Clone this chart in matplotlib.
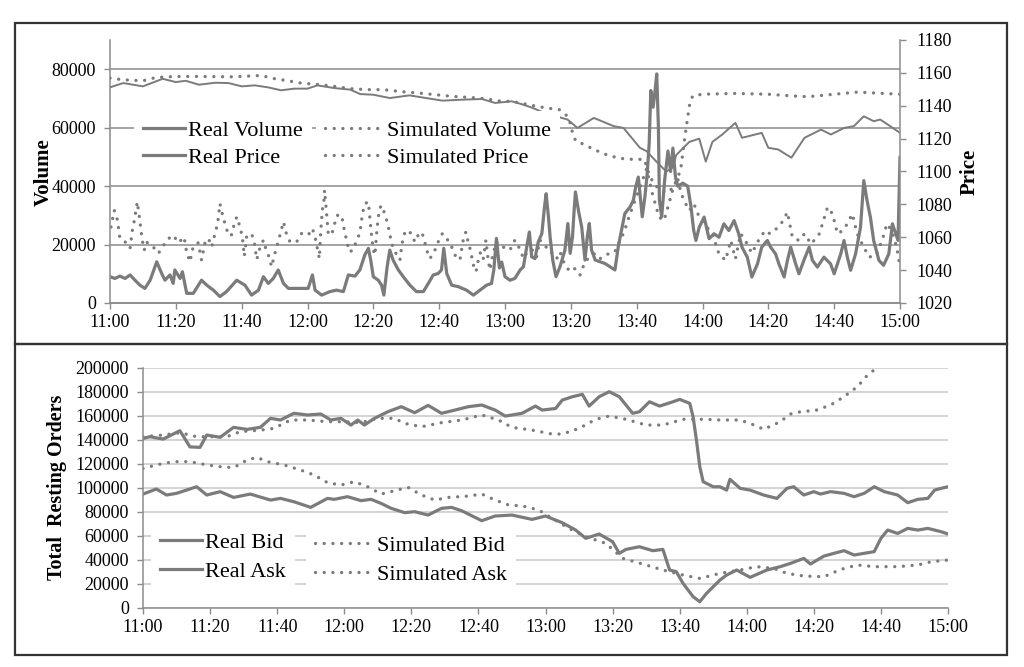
import matplotlib
matplotlib.use("Agg")
import matplotlib.pyplot as plt
from matplotlib.patches import Rectangle
from matplotlib.lines import Line2D

plt.rcParams['font.family'] = ['Liberation Serif', 'DejaVu Serif']

# ---------------- data (minutes after 11:00) ----------------
tick_minutes = [0, 20, 40, 60, 80, 100, 120, 140, 160, 180, 200, 220, 240]
tick_labels = ["11:00", "11:20", "11:40", "12:00", "12:20", "12:40", "13:00",
               "13:20", "13:40", "14:00", "14:20", "14:40", "15:00"]

real_vol_t = [0, 1.5, 3, 4.6, 6.1, 7.6, 9.1, 10.6, 12.2, 14.2, 15.7, 16.7, 18.2, 19.2, 19.7, 21.3, 22, 23.3,
              25.3, 27.8, 29.4, 31.4, 33.4, 35.4, 38.5, 41, 43, 45.1, 46.6, 48.1, 49.6, 51.1, 52.7, 54.2,
              56.7, 59.2, 60.2, 61.5, 62.3, 64.3, 66.8, 68.8, 70.9, 72.4, 74.4, 75.9, 77.4, 78.5, 79.2, 80,
              81.5, 82.5, 83.2, 84.2, 85, 86, 87.6, 89.1, 91.1, 93.1, 95.2, 96.7, 98.2, 99.7, 100.7, 101.4,
              102.3, 103.8, 105.8, 108.3, 110.4, 112.4, 114.4, 115.9, 116.6, 117.4, 118.3, 119, 120, 121.5,
              123, 124.6, 125.6, 126.6, 127.4, 128.1, 129.1, 130.1, 131.2, 132, 132.5, 133.2, 133.7, 134.5,
              135.5, 136.7, 138.2, 139.1, 139.8, 140.5, 141, 141.4, 142.3, 143.3, 144.3, 145, 145.6, 146.3,
              147.4, 148.9, 150.4, 151.9, 153.4, 154.4, 155.4, 156.4, 158, 159, 159.7, 160.5, 161, 161.7,
              162.5, 163.2, 163.8, 164.3, 165, 165.6, 166.1, 166.6, 166.9, 167.6, 168.5, 169.5, 170.3, 171,
              171.8, 172.5, 174, 175.5, 176.5, 177.3, 178, 179, 180.5, 182, 183.5, 185, 186.5, 188, 189.6,
              191, 192, 193.6, 195, 196.7, 198, 199.7, 200.7, 202.2, 203.2, 204.8, 205.8, 206.8, 208.3,
              209.3, 210.8, 212.4, 213.4, 214.9, 216.9, 218.9, 220, 222, 223, 224, 225, 226.5, 228, 229,
              230, 231, 232, 233.6, 235, 236.6, 237.7, 238.7, 239.4, 240]
real_vol = [9.0, 8.4, 9.2, 8.4, 9.6, 7.8, 6.1, 5.0, 7.8, 14.1, 10.1, 7.8, 9.6, 6.7, 11.3, 8.4, 10.7, 3.3,
            3.3, 7.8, 6.1, 4.4, 2.2, 3.9, 7.8, 6.1, 2.7, 4.4, 9.0, 6.7, 8.4, 11.3, 6.7, 5.0,
            5.0, 5.0, 5.0, 9.6, 4.4, 2.7, 3.9, 4.4, 3.9, 9.6, 9.2, 11.3, 16.4, 18.7, 14.7, 9.0,
            7.8, 6.1, 2.7, 12.4, 18.1, 14.7, 11.3, 9.0, 6.1, 3.9, 3.9, 6.7, 9.6, 10.1, 11.3, 18.7,
            10.1, 6.1, 5.6, 4.4, 2.7, 4.4, 6.1, 6.7, 11.3, 22.1, 12.0, 14.0, 9.0, 7.8,
            8.4, 11.3, 12.4, 19.2, 24.3, 15.8, 15.2, 20.9, 23.8, 32.9, 37.4, 29.5, 22.6, 14.7,
            9.0, 12.4, 18.1, 27.2, 17.0, 22.6, 31.7, 38.0, 31.7, 26.0, 14.7, 22.6, 27.2, 18.1,
            14.7, 14.1, 13.5, 12.4, 11.3, 19.2, 24.9, 30.6, 32.9, 35.2, 39.7, 43.1, 37.4, 29.5,
            36.3, 44.3, 54.5, 72.7, 67.0, 72.7, 78.4, 60.2, 35.2, 29.5, 42.0, 52.0, 45.0, 53.0,
            43.0, 40.0, 41.0, 40.0, 33.0, 25.0, 21.4, 25.9, 29.4, 22.0, 23.7, 22.5, 27.1, 24.8, 28.2,
            23.7, 19.1, 15.7, 8.9, 13.4, 19.1, 21.4, 19.1, 16.8, 13.4, 8.9, 14.6, 19.1, 13.4,
            10.0, 14.6, 19.1, 14.6, 12.3, 15.7, 13.4, 10.0, 16.8, 21.4, 15.7, 11.2, 16.8, 25.9, 41.9,
            35.0, 29.4, 21.4, 14.6, 12.9, 16.8, 27.1, 23.7, 21.4, 49.8]

sim_vol_t = [0.3, 1.3, 2.3, 3, 4.6, 6.1, 6.8, 7.4, 8.3, 9.1, 9.8, 10.4, 11.1, 12.7, 13.7, 14.7, 15.9, 17.2,
             19.2, 20.8, 22.5, 23.3, 24.3, 25.3, 26.8, 27.8, 28.9, 29.9, 30.9, 31.9, 32.7, 33.4, 34.1,
             34.9, 35.7, 36.8, 37.5, 38.5, 39.5, 40.2, 40.8, 41.5, 43, 43.8, 44.6, 45.3, 46.6, 47.3, 48.3,
             49.1, 50.1, 51.1, 51.9, 52.7, 53.7, 54.7, 56.7, 58.2, 60.2, 61.5, 62.3, 63, 63.6, 64, 64.5,
             65, 65.2, 65.8, 66.3, 67.3, 68.1, 69, 70.4, 70.9, 71.4, 72.1, 72.7, 73.9, 74.9, 75.9, 76.7,
             77.4, 78.5, 79, 79.5, 80, 80.5, 81, 81.5, 82.3, 83.5, 84.3, 85, 85.5, 87.1, 88.1, 88.6, 89.1,
             89.9, 91.6, 92.6, 93.6, 94.7, 95.5, 96.2, 97.2, 98.5, 99.7, 101, 102.3, 103.8, 104.8, 106.3,
             107.3, 108.1, 108.8, 109.5, 110.4, 111.2, 111.9, 112.6, 113.4, 114.2, 114.9, 115.4, 116.4,
             117.4, 118.5, 120, 121.5, 123, 124.6, 125.6, 127.1, 128.6, 129.6, 130.6, 132.2, 133.2, 134.7,
             135.7, 136.7, 138.2, 139.8, 141.3, 142.8, 144.3, 145.8, 147.4, 148.9, 150.4, 151.9, 153.4,
             154.5, 156, 158, 161, 163, 164.8, 166.8, 168.3, 169.5, 170.9, 172.4, 173.4, 174.4, 176,
             177.4, 179, 180.5, 183, 185, 187, 188.6, 190, 191.6, 193, 195, 197, 199, 200.5, 203, 204.5,
             205.8, 207.3, 209.3, 211, 213, 215.5, 218, 219.5, 221, 222.6, 224, 225.5, 227, 228.5, 230.6,
             232.6, 234.6, 236, 237.5, 239, 240]
sim_vol = [26, 31.7, 28.3, 22.1, 20.9, 18.7, 24.9, 28.3, 34.6, 27.8, 21.5, 18.1, 20.9, 19.2, 18.7, 17, 19, 21.5,
           23.2, 20.6, 22.6, 17.2, 14.1, 19.5, 20.6, 14.7, 20.9, 22.1, 19.2, 23.8, 27.2, 34, 30.6,
           27.2, 24.3, 22.9, 26, 29.5, 26, 22.6, 16, 22.6, 23.8, 20.9, 14.9, 18.1, 21.5, 18.7, 15.8,
           12.4, 17, 20.9, 24.3, 27.8, 23.2, 20.9, 20.9, 23.8, 23.2, 25.5, 22.6, 18.7, 15.2, 24.3, 31.7,
           35.2, 38.6, 30.6, 23.8, 23.2, 26.6, 30, 30, 26.6, 23.8, 20.4, 17.5, 18.1, 21.5, 23.8, 30.6,
           34, 34.6, 28.3, 22.6, 18.1, 16.4, 23.8, 29.5, 33.4, 30.6, 27.2, 23.8, 20.4, 16.4, 14.7, 19.2, 22.6,
           24.9, 23.8, 20.9, 23.2, 24.3, 21.5, 18.1, 15.2, 17.5, 20.9, 23.8, 22.1, 19.2, 16.4, 14.7,
           21.5, 24.3, 20.9, 18.1, 13, 10.7, 14.7, 17.5, 15.2, 21.5, 14.7, 11.3, 17,
           20.9, 19.2, 19, 18.1, 21.5, 18.3, 15.2, 18.1, 18.1, 15.8, 21.5, 19.8, 17.5, 17,
           15.2, 17.5, 13, 10.7, 11.8, 9.6, 14.1, 15.8, 17, 15.2, 16.4, 17, 17.5,
           20.4, 23.8, 30.5, 39.6, 45.9, 37.3, 29.4, 28.2, 32.8, 38.5, 43, 37.9, 35, 31.6,
           33.9, 29.4, 27.1, 23.7, 16.8, 14.6, 21.4, 15.1, 23.7, 21.4, 17, 21.4, 24.8, 23.7, 25.9, 28.2,
           31.1, 22.5, 21.4, 23.7, 20.2, 23.7, 32.8, 30.5, 23.7, 24.8, 27.1, 30.5, 23.7, 20.2, 15.7,
           16.3, 21.4, 27.1, 24.8, 19.1, 12.3]

real_price_t = [0, 4, 10, 16, 20, 23, 27, 32, 36, 40, 44, 48, 52, 56, 60, 63, 68, 73, 76, 80, 85, 91, 96,
                101, 107, 113, 117, 122, 125, 128, 132, 139, 142, 147, 153, 156, 161, 163, 166, 169, 171,
                172, 174, 176, 179, 181, 183, 186, 190, 192, 198, 200, 203, 207, 211, 216, 219, 223, 226,
                229, 232, 234, 237, 240]
real_price = [1151.2, 1153.8, 1151.8, 1156.4, 1154.4, 1155.2, 1152.8, 1154.0, 1153.8, 1151.8, 1152.4,
              1151.2, 1149.4, 1150.4, 1150.4, 1152.4, 1150.8, 1149.8, 1147.1, 1146.7, 1144.7, 1146.3,
              1144.7, 1143.1, 1143.7, 1144.1, 1141.7, 1142.7, 1141.0, 1139.0, 1135.6, 1131.6, 1126.5,
              1132.6, 1127.6, 1126.5, 1114.4, 1112.4, 1106.0, 1100.0, 1102.5, 1110.0, 1114.0, 1118.0,
              1120.0, 1106.0, 1118.0, 1122.5, 1129.6, 1120.5, 1123.5, 1114.4, 1113.4, 1108.4, 1120.5,
              1125.5, 1122.5, 1126.5, 1127.6, 1133.6, 1130.6, 1131.6, 1127.6, 1123.5]

sim_price_t = [0, 4, 10, 14, 20, 27, 37, 46, 49, 54, 58, 64, 68, 73, 78, 83, 88, 94, 99, 104, 109, 114,
               119, 122, 128, 132.4, 136.5, 139, 140, 140.5, 141.5, 144, 147, 150.6, 154.7, 158.7, 162.3,
               163.5, 165, 167, 169, 171, 172.5, 173.5, 174.3, 175.2, 176, 177, 180, 190, 200, 207, 212,
               220, 227, 235, 240]
sim_price = [1156.8, 1155.8, 1155.2, 1157.2, 1157.8, 1157.8, 1157.6, 1158.4, 1156.8, 1155.2, 1153.8,
             1152.8, 1151.8, 1150.4, 1149.8, 1149.8, 1148.7, 1147.7, 1146.7, 1145.7, 1145.1, 1144.3,
             1142.7, 1142.7, 1140.3, 1138.7, 1137.6, 1133.6, 1128.6, 1123.5, 1118.5, 1116.5, 1113.4,
             1110.4, 1108.0, 1107.4, 1107.4, 1100.0, 1093.0, 1089.0, 1087.0, 1090.0, 1096.0, 1103.0,
             1116.0, 1128.8, 1139.9, 1146.0, 1147.0, 1147.5, 1147.0, 1146.0, 1145.5, 1147.0, 1148.3,
             1147.5, 1147.0]

real_bid_t = [0, 2, 6, 11, 14, 17, 19, 23, 27, 31, 35, 38, 41, 45, 49, 53, 56, 59, 62, 64, 66, 69, 73,
              77, 81, 85, 89, 93, 97, 101, 105, 108, 110, 113, 117, 119, 123, 125, 128, 131, 133, 136, 139,
              142, 146, 148, 151, 154, 158, 160, 163, 164, 165, 166, 167, 170, 172, 174, 175, 178, 181,
              185, 189, 192, 194, 197, 200, 202, 205, 209, 212, 215, 218, 221, 225, 228, 231, 234, 236,
              238, 240]
real_bid = [141, 142.5, 140.5, 147.5, 134, 133.6, 143.9, 142, 150.3, 148.6, 150.3, 157.8, 156.4, 162,
            160.6, 161.4, 156.4, 157.8, 152.2, 156.4, 152.2, 157.8, 163.3, 167.5, 162.5, 168.6, 162,
            164.7, 167.5, 168.9, 164.7, 159.7, 160.6, 162, 168, 164.7, 166, 173, 175.8, 177.8, 168,
            175.8, 180, 175.8, 162, 163.3, 171.6, 168, 171.6, 173.6, 170.3, 159.2, 139.7, 117.5, 105,
            100.8, 100.8, 98, 107, 99.5, 98, 93.9, 91.1, 99.5, 100.8, 93.9, 96.7, 94.7, 96.7, 95.3,
            92.5, 95.3, 100.8, 96.7, 93.9, 87.5, 90.3, 91.1, 98, 99.5, 100.8]

real_ask_t = [0, 4, 7, 10, 16, 19, 23, 27, 32, 38, 41, 45, 50, 55, 57, 61, 65, 68, 71, 74, 78, 81, 85,
              89, 92, 95, 101, 105, 110, 116, 120, 125, 129, 132, 136, 140, 142, 144, 148, 152, 155, 157,
              159, 161, 164, 166, 168, 170, 172, 174, 177, 181, 186, 190, 193, 197, 199, 203, 206, 209,
              212, 215, 218, 220, 222, 225, 228, 231, 234, 238, 240]
real_ask = [94.7, 98.9, 93.9, 95.3, 100.8, 93.9, 96.7, 91.9, 94.7, 89.7, 91.1, 88.3, 83.6, 91.1, 90.3,
            92.5, 89.2, 90.3, 86.9, 82.8, 79.2, 80, 77.2, 82.8, 83.6, 80.8, 72.5, 76.4, 77.2, 73.6, 76.4,
            70.8, 64.7, 57.8, 61.4, 55, 45.3, 48.6, 50.8, 47.5, 48.6, 31.4, 30, 20.3, 9.2, 5, 11.9, 17.5,
            23, 27.2, 31.4, 25.3, 31.4, 34.2, 36.9, 41.1, 36.4, 43, 45.3, 47.5, 43.9, 45.3, 46.7, 57.8,
            64.7, 61.9, 66.1, 64.7, 66.1, 63.3, 61.4]

sim_bid_t = [0, 6, 11, 16, 20, 25, 29, 35, 39, 44, 49, 55, 60, 65, 70, 75, 78, 83, 89, 95, 101, 106,
             110, 116, 122, 125, 130, 135, 139, 144, 150, 155, 161, 167, 172, 178, 183, 185, 190, 193,
             197, 200, 205, 209, 213, 216, 219]
sim_bid = [142.5, 143.9, 145.8, 142.5, 142.5, 142.5, 146.7, 148, 149.4, 156.4, 156.4, 155, 155, 154.2,
           157.8, 157.8, 153.6, 150.8, 154.2, 156.4, 160.6, 156.4, 150.3, 148, 144.7, 144.7, 149.4, 157,
           159.7, 157, 152.2, 152.2, 157, 157, 156.4, 156.4, 151.4, 148.6, 155, 161.4, 163.9, 163.9,
           168.9, 175.8, 184.2, 193.9, 200.3]

sim_ask_t = [0, 4, 9, 14, 19, 23, 27, 31, 34, 37, 42, 47, 51, 55, 59, 63, 67, 71, 75, 79, 83, 87, 91,
             97, 101, 105, 109, 110, 114, 118, 122, 127, 132, 138, 143, 150, 155, 161, 166, 172, 178,
             183, 188, 192, 197, 203, 208, 213, 218, 225, 231, 235, 240]
sim_ask = [116, 119, 121.7, 121.7, 119, 117.5, 116.7, 123, 125.3, 121.7, 119, 114.7, 110.6, 104.2, 102.2,
           105, 100.8, 94.7, 97.5, 100.3, 93.9, 89.7, 91.9, 93, 94.7, 89.7, 85.6, 85.6, 84.2, 81.4, 74.4,
           66.1, 59.2, 53.6, 41.1, 35.6, 31.4, 27.2, 24.4, 28.6, 31.4, 34.2, 32.8, 28.6, 26.4, 25.8,
           31.9, 35.6, 34.2, 34.2, 35.6, 38.3, 39.7]

# ---------------- style ----------------
W, H = 1024, 667
LINE = '#7b7b7b'
AXC = '#8c8c8c'
DOT = (0, (0.01, 2.6))

fig = plt.figure(figsize=(W / 100, H / 100), dpi=100)


def fx(px):
    return px / W


def fy(py):
    return 1 - py / H


# outer boxes
fig.add_artist(Rectangle((fx(15), fy(344)), fx(1007) - fx(15), fy(23) - fy(344),
                         transform=fig.transFigure, fill=False, edgecolor='#333333', lw=1.6))
fig.add_artist(Rectangle((fx(15), fy(655)), fx(1007) - fx(15), fy(344) - fy(655),
                         transform=fig.transFigure, fill=False, edgecolor='#333333', lw=1.6))

# ---------------- top panel ----------------
ax = fig.add_axes([fx(110), fy(303), fx(900) - fx(110), fy(40) - fy(303)])
ax2 = ax.twinx()

ax.plot(real_vol_t, [v * 1000 for v in real_vol], color=LINE, lw=2.3, solid_joinstyle='round')
ax.plot(sim_vol_t, [v * 1000 for v in sim_vol], color=LINE, lw=2.4, linestyle=DOT, dash_capstyle='round')
ax2.plot(real_price_t, real_price, color=LINE, lw=1.4)
ax2.plot(sim_price_t, sim_price, color=LINE, lw=2.4, linestyle=DOT, dash_capstyle='round')

ax.set_xlim(0, 240)
ax.set_ylim(0, 90000)
ax2.set_ylim(1020, 1180)
ax.set_xticks(tick_minutes)
ax.set_xticklabels(tick_labels)
ax.set_yticks([0, 20000, 40000, 60000, 80000])
ax2.set_yticks(list(range(1020, 1181, 20)))
ax.yaxis.grid(True, color=AXC, lw=1.1)
ax.set_axisbelow(True)
for a in (ax, ax2):
    a.spines['top'].set_visible(False)
    for s in a.spines.values():
        s.set_color(AXC)
        s.set_linewidth(1.1)
ax2.spines['left'].set_visible(False)
ax.spines['right'].set_visible(False)
ax.tick_params(axis='y', direction='out', length=4, color=AXC, labelsize=13, pad=6, width=1)
ax.tick_params(axis='x', direction='out', length=4, color=AXC, labelsize=13, pad=4, width=1)
ax2.tick_params(axis='y', direction='out', length=4, color=AXC, labelsize=13, pad=8, width=1)

h_rv = Line2D([], [], color=LINE, lw=2.3)
h_rp = Line2D([], [], color=LINE, lw=2.3)
h_sv = Line2D([], [], color=LINE, lw=2.4, linestyle=DOT, dash_capstyle='round')
h_sp = Line2D([], [], color=LINE, lw=2.4, linestyle=DOT, dash_capstyle='round')
leg_kw = dict(frameon=True, facecolor='white', edgecolor='none', framealpha=1, fontsize=16,
              borderaxespad=0, borderpad=0.4, bbox_transform=fig.transFigure, loc='center left')
leg1 = ax2.legend([h_rv, h_rp], ['Real Volume', 'Real Price'], bbox_to_anchor=(fx(134), fy(144)),
                  handlelength=1.9, handletextpad=0.15, labelspacing=0.3, **leg_kw)
ax2.add_artist(leg1)
ax2.legend([h_sv, h_sp], ['Simulated Volume', 'Simulated Price'], bbox_to_anchor=(fx(316), fy(144)),
           handlelength=2.4, handletextpad=0.4, labelspacing=0.3, **leg_kw)

fig.text(fx(44), fy(172), 'Volume', rotation=90, ha='center', va='center', fontsize=15, fontweight='bold')
fig.text(fx(970), fy(172), 'Price', rotation=90, ha='center', va='center', fontsize=15, fontweight='bold')

# ---------------- bottom panel ----------------
bx = fig.add_axes([fx(143), fy(607.7), fx(948) - fx(143), fy(367.7) - fy(607.7)])
bx.plot(real_bid_t, [v * 1000 for v in real_bid], color=LINE, lw=2.3, solid_joinstyle='round')
bx.plot(real_ask_t, [v * 1000 for v in real_ask], color=LINE, lw=2.3, solid_joinstyle='round')
bx.plot(sim_bid_t, [v * 1000 for v in sim_bid], color=LINE, lw=2.4, linestyle=DOT, dash_capstyle='round')
bx.plot(sim_ask_t, [v * 1000 for v in sim_ask], color=LINE, lw=2.4, linestyle=DOT, dash_capstyle='round')
bx.set_xlim(0, 240)
bx.set_ylim(0, 200000)
bx.set_xticks(tick_minutes)
bx.set_xticklabels(tick_labels)
bx.set_yticks(list(range(0, 200001, 20000)))
bx.yaxis.grid(True, color='#d0d0d0', lw=1.3)
bx.set_axisbelow(True)
bx.spines['top'].set_visible(False)
bx.spines['right'].set_visible(False)
for s in ('left', 'bottom'):
    bx.spines[s].set_color(AXC)
    bx.spines[s].set_linewidth(1.1)
bx.tick_params(axis='y', direction='out', length=4, color=AXC, labelsize=13, pad=6, width=1)
bx.tick_params(axis='x', direction='out', length=4, color=AXC, labelsize=13, pad=4, width=1)

h_rb = Line2D([], [], color=LINE, lw=2.3)
h_ra = Line2D([], [], color=LINE, lw=2.3)
h_sb = Line2D([], [], color=LINE, lw=2.4, linestyle=DOT, dash_capstyle='round')
h_sa = Line2D([], [], color=LINE, lw=2.4, linestyle=DOT, dash_capstyle='round')
leg3 = bx.legend([h_rb, h_ra], ['Real Bid', 'Real Ask'], bbox_to_anchor=(fx(151), fy(557)),
                 handlelength=1.9, handletextpad=0.15, labelspacing=0.38, **leg_kw)
bx.add_artist(leg3)
bx.legend([h_sb, h_sa], ['Simulated Bid', 'Simulated Ask'], bbox_to_anchor=(fx(306), fy(560)),
          handlelength=2.4, handletextpad=0.4, labelspacing=0.38, **leg_kw)

fig.text(fx(57), fy(487), 'Total  Resting Orders', rotation=90, ha='center', va='center',
         fontsize=14.5, fontweight='bold')

fig.savefig('out.png', dpi=100)
